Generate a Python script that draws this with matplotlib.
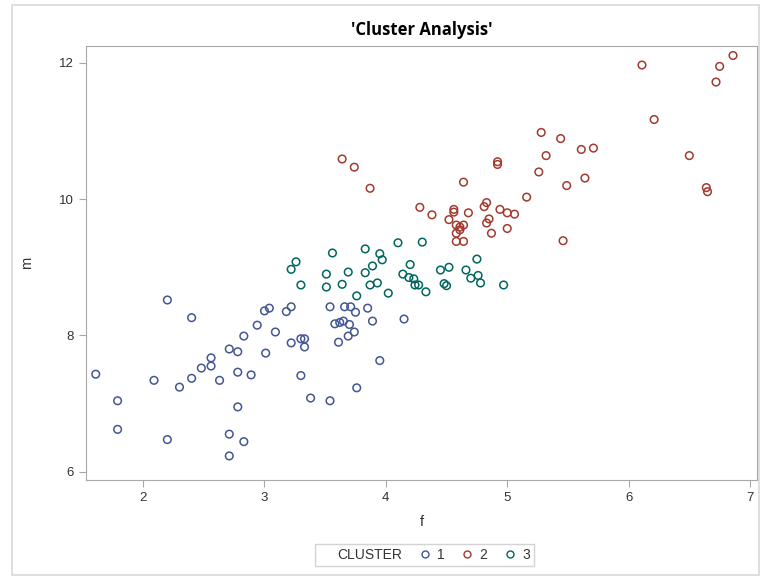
import matplotlib
matplotlib.use("Agg")
import matplotlib.pyplot as plt
from matplotlib.lines import Line2D
from matplotlib.patches import Rectangle

plt.rcParams["font.family"] = ["Liberation Sans", "DejaVu Sans"]

# cluster 1 (blue)
f1 = [1.61, 1.79, 1.79, 2.20, 2.40, 2.09, 2.30, 2.20, 2.40, 2.48, 2.56, 2.56, 2.63,
      2.71, 2.78, 2.78, 2.78, 2.71, 2.71, 2.83, 2.83, 2.89, 2.94, 3.00, 3.04, 3.01,
      3.09, 3.18, 3.22, 3.22, 3.30, 3.30, 3.33, 3.33, 3.38, 3.54, 3.66, 3.71, 3.75,
      3.85, 3.89, 4.15, 3.58, 3.62, 3.65, 3.70, 3.74, 3.69, 3.61, 3.95, 3.76, 3.54]
m1 = [7.43, 7.04, 6.62, 8.52, 8.26, 7.34, 7.24, 6.47, 7.37, 7.52, 7.67, 7.55, 7.34,
      7.80, 7.76, 7.46, 6.95, 6.55, 6.23, 6.44, 7.99, 7.42, 8.15, 8.36, 8.40, 7.74,
      8.05, 8.35, 8.42, 7.89, 7.41, 7.95, 7.95, 7.83, 7.08, 8.42, 8.42, 8.42, 8.34,
      8.40, 8.21, 8.24, 8.17, 8.19, 8.21, 8.16, 8.05, 7.99, 7.90, 7.63, 7.23, 7.04]

# cluster 2 (red)
f2 = [3.64, 3.74, 3.87, 4.64, 4.92, 4.92, 4.28, 4.38, 4.56, 4.56, 4.52, 4.68, 4.58,
      4.61, 4.64, 4.61, 4.58, 4.58, 4.64, 4.83, 4.81, 4.94, 5.00, 5.06, 4.85, 4.83,
      5.00, 4.87, 5.16, 5.26, 5.32, 5.28, 5.44, 5.61, 5.71, 5.64, 5.49, 5.46, 6.11,
      6.86, 6.75, 6.72, 6.21, 6.50, 6.64, 6.65]
m2 = [10.59, 10.47, 10.16, 10.25, 10.55, 10.51, 9.88, 9.77, 9.85, 9.81, 9.70, 9.80,
      9.62, 9.59, 9.62, 9.55, 9.50, 9.38, 9.38, 9.95, 9.89, 9.85, 9.80, 9.78, 9.71,
      9.65, 9.57, 9.50, 10.03, 10.40, 10.64, 10.98, 10.89, 10.73, 10.75, 10.31, 10.20,
      9.39, 11.97, 12.11, 11.95, 11.72, 11.17, 10.64, 10.17, 10.11]

# cluster 3 (teal)
f3 = [3.22, 3.26, 3.30, 3.56, 3.83, 3.95, 3.97, 4.10, 4.30, 3.51, 3.69, 3.83, 3.89,
      3.51, 3.64, 3.87, 3.93, 4.02, 3.76, 4.14, 4.20, 4.19, 4.23, 4.24, 4.27, 4.33,
      4.45, 4.52, 4.48, 4.50, 4.66, 4.75, 4.70, 4.76, 4.78, 4.97]
m3 = [8.97, 9.08, 8.74, 9.21, 9.27, 9.20, 9.11, 9.36, 9.37, 8.90, 8.93, 8.92, 9.02,
      8.71, 8.75, 8.74, 8.77, 8.62, 8.58, 8.90, 9.04, 8.85, 8.83, 8.74, 8.74, 8.64,
      8.96, 9.00, 8.76, 8.73, 8.96, 9.12, 8.84, 8.88, 8.77, 8.74]

labels = ["1", "2", "3"]
colors = ["#445694", "#A23A2E", "#01665E"]

fig = plt.figure(figsize=(7.64, 5.78), dpi=100)
fig.patches.append(Rectangle((0.016, 0.006), 0.978, 0.985, transform=fig.transFigure,
                             fill=False, edgecolor="#d8d8d8", linewidth=1.2))
ax = fig.add_axes([0.1126, 0.1696, 0.8783, 0.7509])

for fx, my, c in zip([f1, f2, f3], [m1, m2, m3], colors):
    ax.scatter(fx, my, s=30, facecolors="none", edgecolors=c, linewidths=1.1)

ax.set_xlim(1.53, 7.058)
ax.set_ylim(5.877, 12.25)
ax.set_xticks([2, 3, 4, 5, 6, 7])
ax.set_yticks([6, 8, 10, 12])
for s in ax.spines.values():
    s.set_color("#a8a8a8")
ax.tick_params(colors="#a8a8a8", labelcolor="#333333", labelsize=9.5, length=5)
ax.set_xlabel("f", fontsize=10.5, color="#333333", labelpad=8)
ax.set_ylabel("m", fontsize=10.5, color="#333333", labelpad=18)
ax.set_title("'Cluster Analysis'", fontsize=12, fontweight="bold", pad=8,
             family=["Open Sans", "DejaVu Sans"])

handles = [Line2D([], [], linestyle="none")]
for c in colors:
    handles.append(Line2D([], [], linestyle="none", marker="o", markersize=5,
                          markerfacecolor="none", markeredgecolor=c, markeredgewidth=1))
leg = fig.legend(handles, ["CLUSTER"] + labels, loc="center", ncol=4,
                 bbox_to_anchor=(0.556, 0.04), frameon=True, fontsize=10,
                 handlelength=0.8, handletextpad=0.5, columnspacing=1.2,
                 borderpad=0.3, fancybox=False)
leg.get_frame().set_edgecolor("#c8c8c8")
for t in leg.get_texts():
    t.set_color("#333333")

fig.savefig("out.png", dpi=100)
